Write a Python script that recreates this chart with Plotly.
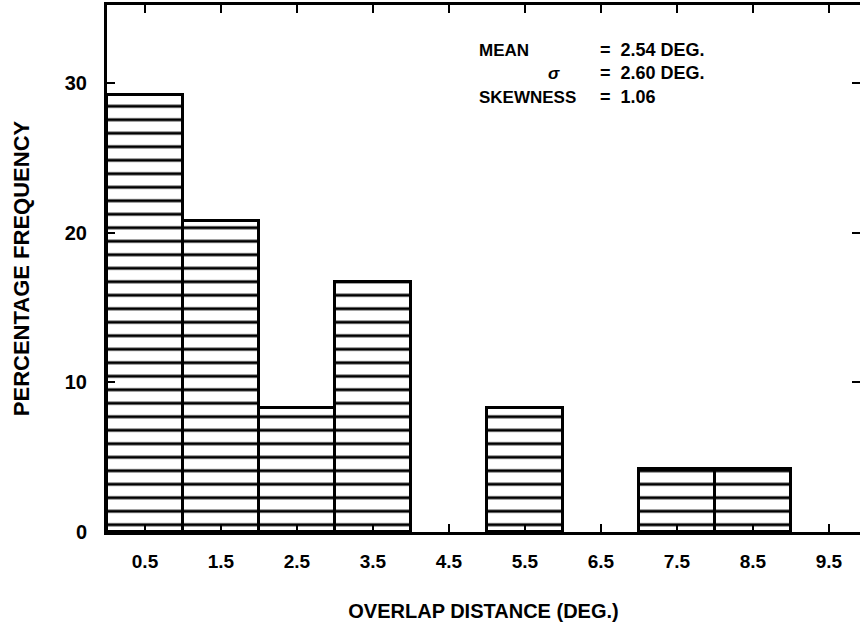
import plotly.graph_objects as go

bin_centers = [0.5, 1.5, 2.5, 3.5, 4.5, 5.5, 6.5, 7.5, 8.5, 9.5]
percent_freq = [29.2, 20.8, 8.3, 16.7, 0, 8.3, 0, 4.2, 4.2, 0]
x_tick_vals = [0.5, 1.5, 2.5, 3.5, 4.5, 5.5, 6.5, 7.5, 8.5, 9.5]
x_tick_text = ["0.5", "1.5", "2.5", "3.5", "4.5", "5.5", "6.5", "7.5", "8.5", "9.5"]
y_tick_vals = [0, 10, 20, 30]
y_tick_text = ["0", "10", "20", "30"]
stat_labels = ["MEAN", "σ", "SKEWNESS"]
stat_values = ["=\u00a0\u00a02.54 DEG.", "=\u00a0\u00a02.60 DEG.", "=\u00a0\u00a01.06"]

FONT = "Liberation Sans, Arial, Helvetica, sans-serif"

bx = [c for c, v in zip(bin_centers, percent_freq) if v > 0]
by = [v for v in percent_freq if v > 0]

fig = go.Figure()
fig.add_trace(go.Bar(
    x=bx, y=by, width=1.0,
    marker=dict(
        color="white",
        line=dict(color="black", width=3),
        pattern=dict(shape="-", fgcolor="black", bgcolor="white", fgopacity=1,
                     size=13.5, solidity=0.22),
    ),
    showlegend=False,
))

W, H = 860, 626
L, R, T, B = 107, 0, 5, 94
pw, ph = W - L - R, H - T - B

def px(x):
    return (x - L) / pw

def py(y):
    return (H - B - y) / ph

rows_y = [50, 73, 97]
label_x = [477, 546, 477]
for lab, val, yy, lx in zip(stat_labels, stat_values, rows_y, label_x):
    fig.add_annotation(x=px(lx), y=py(yy), xref="paper", yref="paper", text=lab,
                       showarrow=False, xanchor="left", yanchor="middle",
                       font=dict(family=FONT, size=17, color="black", weight="bold",
                                 style="italic" if lab == "σ" else "normal"))
    fig.add_annotation(x=px(598), y=py(yy), xref="paper", yref="paper", text=val,
                       showarrow=False, xanchor="left", yanchor="middle",
                       font=dict(family=FONT, size=18, color="black", weight="bold"))

fig.update_layout(
    width=W, height=H,
    margin=dict(l=L, r=R, t=T, b=B, autoexpand=False),
    plot_bgcolor="white", paper_bgcolor="white",
    bargap=0,
    font=dict(family=FONT, size=17, color="black", weight="bold"),
    xaxis=dict(
        range=[0, 9.91], tickvals=x_tick_vals, ticktext=x_tick_text,
        ticks="inside", ticklen=8, tickwidth=2, tickcolor="black",
        showline=True, linecolor="black", linewidth=3, mirror="allticks",
        showgrid=False, zeroline=False, automargin=False,
        title=dict(text="OVERLAP DISTANCE (DEG.)", standoff=34,
                   font=dict(family=FONT, size=20, color="black", weight="bold")),
        tickfont=dict(family=FONT, size=19, color="black", weight="bold"),
        ticklabelstandoff=10,
    ),
    yaxis=dict(
        range=[0, 35.2], tickvals=y_tick_vals, ticktext=y_tick_text,
        ticks="inside", ticklen=8, tickwidth=2, tickcolor="black",
        showline=True, linecolor="black", linewidth=3, mirror="allticks",
        showgrid=False, zeroline=False, automargin=False,
        title=dict(text="PERCENTAGE FREQUENCY", standoff=30,
                   font=dict(family=FONT, size=22, color="black", weight="bold")),
        tickfont=dict(family=FONT, size=20, color="black", weight="bold"),
        ticklabelstandoff=13,
    ),
)

fig.write_html("out.html", config={"displayModeBar": False},
               post_script="document.body.style.margin='0';")
